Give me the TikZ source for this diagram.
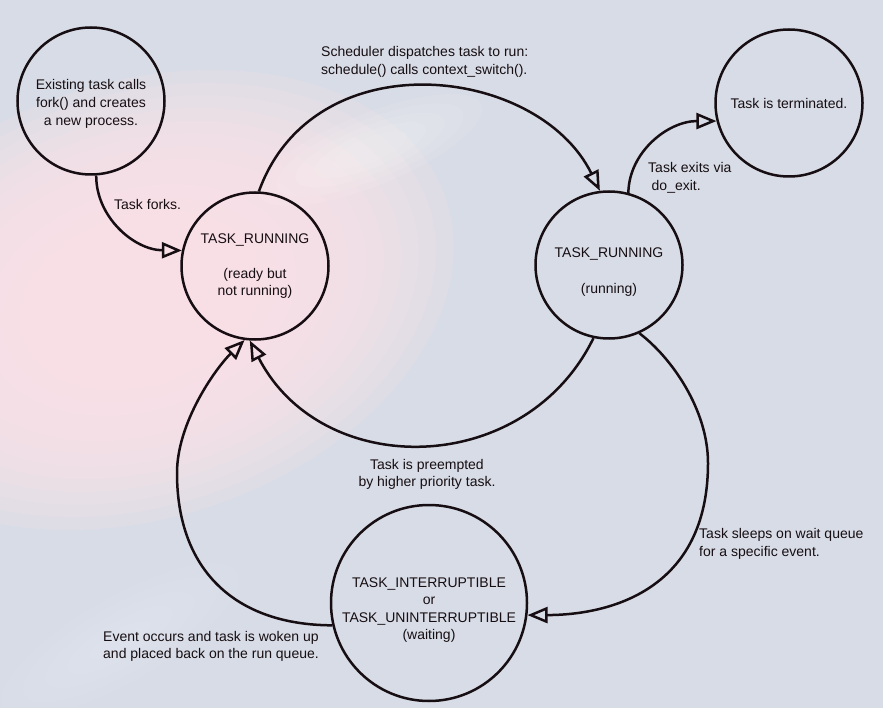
\documentclass[tikz,border=0pt]{standalone}
\usepackage{fontspec}
\setmainfont{Liberation Sans}
\usetikzlibrary{arrows.meta}
\definecolor{bg}{RGB}{216,220,230}
\definecolor{pinkband}{RGB}{255,228,233}
\definecolor{ink}{RGB}{22,14,18}
\begin{document}
\begin{tikzpicture}[x=1pt,y=-1pt,
  state/.style={circle, draw=ink, line width=2.5pt, inner sep=0pt, minimum size=147pt,
    align=center, font=\fontsize{14}{17.6}\selectfont, text=ink},
  lbl/.style={inner sep=0pt, font=\fontsize{14}{17.6}\selectfont, text=ink},
  conn/.style={draw=ink, line width=2.5pt,
    -{Triangle[open, length=20pt, width=16pt, line join=miter]}}]
\useasboundingbox (0,0) rectangle (883,708);
\begin{scope}
  \clip (0,0) rectangle (883,708);
  \fill[bg] (0,0) rectangle (883,708);
  \foreach \k in {1,...,12} {
    \fill[pinkband, opacity=0.17, rotate around={18:(140,300)}]
      (140,300) ellipse [x radius={340-18*\k}, y radius={230-12*\k}];
  }
  \foreach \k in {1,...,5} {
    \fill[white, opacity=0.08, rotate around={22:(370,150)}]
      (370,150) ellipse [x radius={140-20*\k}, y radius={42-6*\k}];
  }
  \foreach \k in {1,...,5} {
    \fill[white, opacity=0.05, rotate around={30:(120,640)}]
      (120,640) ellipse [x radius={160-25*\k}, y radius={50-8*\k}];
  }
\end{scope}

% states
\node[state] (A) at (91,101) {\rule{0pt}{16pt}Existing task calls\\fork() and creates\\a new process.};
\node[state] (B) at (255,266) {TASK\_RUNNING\\[17.6pt](ready but\\not running)};
\node[state] (C) at (609,265) {\rule{0pt}{24pt}TASK\_RUNNING\\[17.6pt](running)};
\node[state] (D) at (789,103) {Task is terminated.};
\node[state, minimum size=196pt] (E) at (429,603)
  {\rule{0pt}{24pt}TASK\_INTERRUPTIBLE\\or\\TASK\_UNINTERRUPTIBLE\\(waiting)};

% labels
\node[lbl, anchor=west, align=left] (lsched) at (321,62)
  {Scheduler dispatches task to run:\\schedule() calls context\_switch().};
\node[lbl, anchor=west] (lforks) at (114,204) {Task forks.};
\node[lbl, anchor=west, align=left] (lexits) at (648,178)
  {Task exits via\\\hspace{3.5pt}do\_exit.};
\node[lbl, align=center] (lpre) at (427,474.5)
  {Task is preempted\\by higher priority task.};
\node[lbl, anchor=west, align=left] (lsleep) at (699,544)
  {Task sleeps on wait queue\\for a specific event.};
\node[lbl, anchor=west, align=left] (levent) at (103,646.5)
  {Event occurs and task is woken up\\and placed back on the run queue.};

% connectors
\draw[conn] (A.274) .. controls (96,217) and (134,250) .. (B.168);
\draw[conn] (B.87) .. controls (314,39) and (538,65) .. (C.97);
\draw[conn] (C.75) .. controls (629,152) and (668,121) .. (D.194);
\draw[conn] (C.258) .. controls (525,478) and (322,481) .. (B.266);
\draw[conn] (C.294) .. controls (672,358) and (708,410) .. (708,463)
  .. controls (708,590) and (610,615) .. (E.353);
\draw[conn] (E.193) .. controls (235,625) and (177,570) .. (177,473)
  .. controls (177,423) and (215,369) .. (B.262);
\end{tikzpicture}
\end{document}
